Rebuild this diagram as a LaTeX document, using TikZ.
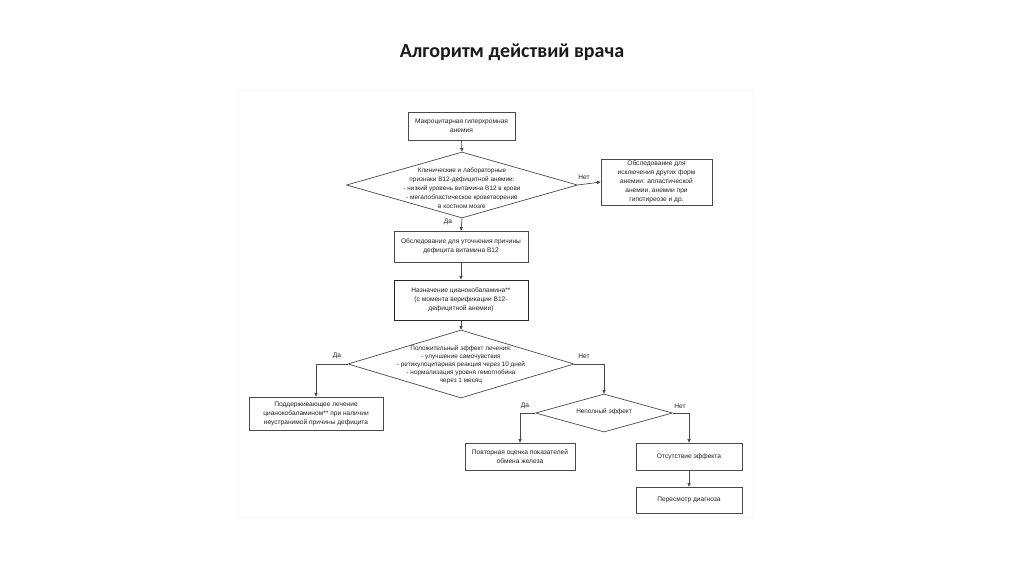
\documentclass[tikz,border=0pt]{standalone}
\usepackage{fontspec}
\setmainfont{Liberation Sans}
\newfontfamily\titlefont{Carlito}
\usetikzlibrary{arrows.meta,shapes.geometric}
\definecolor{linec}{HTML}{4A4A4A}
\definecolor{txtc}{HTML}{222222}
\tikzset{
  box/.style={draw=linec, line width=0.7pt, fill=white, align=center, inner sep=1pt,
    font=\fontsize{6.6}{9}\selectfont, text=txtc},
  dia/.style={draw=linec, line width=0.7pt, shape=diamond, inner sep=0pt, fill=white},
  ctext/.style={align=center, font=\fontsize{6.4}{9}\selectfont, text=txtc},
  ctextb/.style={align=center, font=\fontsize{6.4}{7.9}\selectfont, text=txtc},
  conn/.style={draw=linec, line width=0.7pt, -{Triangle[width=3.2pt,length=3.6pt]}},
  lbl/.style={font=\fontsize{6.6}{8}\selectfont, text=txtc, inner sep=0pt}
}
\begin{document}
\begin{tikzpicture}[x=1pt,y=-1pt]
\useasboundingbox (0,0) rectangle (1024,574);
\fill[white] (0,0) rectangle (1024,574);
\draw[draw=black!3, line width=0.8pt] (237,90) rectangle (753,517);
\node[font=\titlefont\bfseries\fontsize{20}{24}\selectfont, text=black!90] (title) at (512,52) {Алгоритм действий врача};

% boxes
\node[box, minimum width=107pt, minimum height=28pt] (b1) at (461.5,126) {Макроцитарная гиперхромная\\анемия};
\node[dia, minimum width=231pt, minimum height=66pt] (d1) at (462,185) {};
\node[ctext] (d1t) at (462,188.5) {Клинические и лабораторные\\признаки В12-дефицитной анемии:\\- низкий уровень витамина В12 в крови\\- мегалобластическое кроветворение\\в костном мозге};
\node[box, minimum width=111pt, minimum height=46pt] (rb) at (656.5,182) {Обследование для\\исключения других форм\\анемии: апластической\\анемии, анемии при\\гипотиреозе и др.};
\node[box, minimum width=134pt, minimum height=31pt] (b2) at (461,246.5) {Обследование для уточнения причины\\дефицита витамина В12};
\node[box, line width=1.0pt, draw=black!85, minimum width=134pt, minimum height=40pt] (b3) at (461,300) {Назначение цианокобаламина**\\(с момента верификации В12-\\дефицитной анемии)};
\node[dia, minimum width=226pt, minimum height=68pt] (d2) at (461,364) {};
\node[ctextb] (d2t) at (461,365) {Положительный эффект лечения:\\- улучшение самочувствия\\- ретикулоцитарная реакция через 10 дней\\- нормализация уровня гемоглобина\\через 1 месяц};
\node[box, minimum width=134pt, minimum height=33pt] (lb) at (316,413.5) {Поддерживающее лечение\\цианокобаламином** при наличии\\неустранимой причины дефицита};
\node[dia, minimum width=137pt, minimum height=38pt] (d3) at (604,413) {};
\node[ctext] (d3t) at (604,412) {Неполный эффект};
\node[box, minimum width=110pt, minimum height=27pt] (b4) at (520,456.5) {Повторная оценка показателей\\обмена железа};
\node[box, minimum width=106pt, minimum height=27pt] (b5) at (689,456.5) {Отсутствие эффекта};
\node[box, minimum width=106pt, minimum height=26pt] (b6) at (689,500) {Пересмотр диагноза};

% connectors
\draw[conn] (b1.south) -- (d1.north);
\draw[conn] (d1.east) -- (rb.west);
\draw[conn] (d1.south) -- (b2.north);
\draw[conn] (b2.south) -- (b3.north);
\draw[conn] (b3.south) -- (d2.north);
\draw[conn] (d2.west) -| (lb.north);
\draw[conn] (d2.east) -| (d3.north);
\draw[conn] (d3.west) -| (b4.north);
\draw[conn] (d3.east) -| (b5.north);
\draw[conn] (b5.south) -- (b6.north);

% labels
\node[lbl] (l1) at (584,177) {Нет};
\node[lbl] (l2) at (448,222) {Да};
\node[lbl] (l3) at (337,356) {Да};
\node[lbl] (l4) at (584,356) {Нет};
\node[lbl] (l5) at (525,406) {Да};
\node[lbl] (l6) at (680,406) {Нет};
\end{tikzpicture}
\end{document}
